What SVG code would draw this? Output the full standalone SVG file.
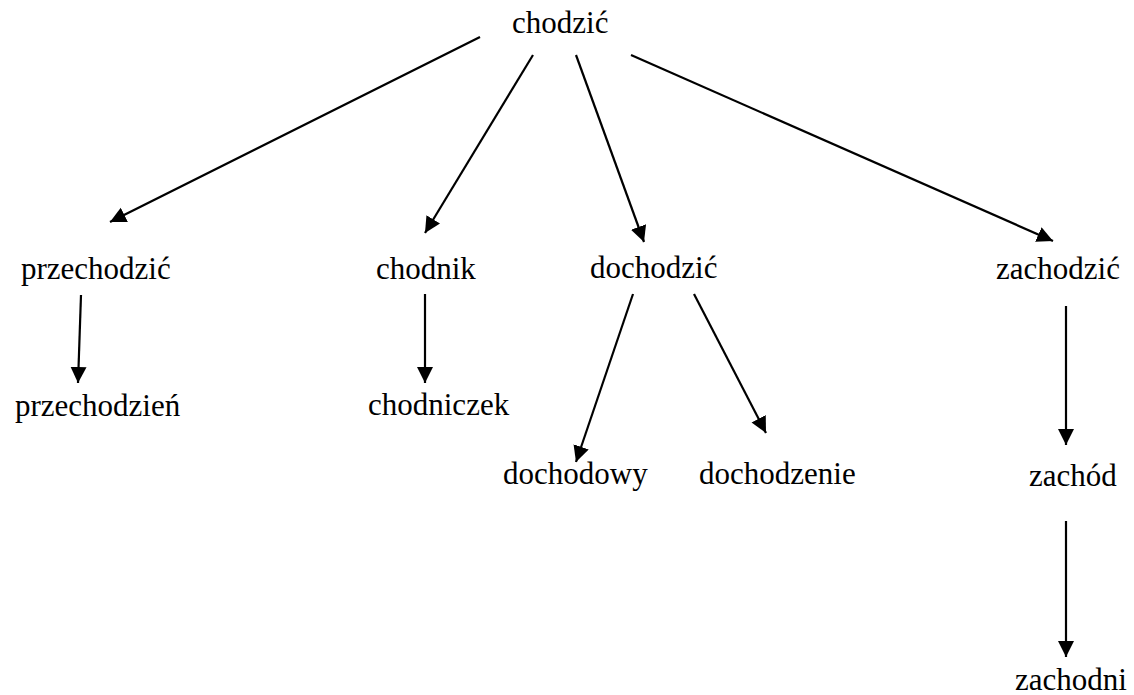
<svg xmlns="http://www.w3.org/2000/svg" width="1134" height="695" viewBox="0 0 1134 695">
<style>
.t{font-family:"Liberation Serif","Times New Roman",serif;font-size:31px;fill:#000}
.c line{stroke:#000;stroke-width:2.2;marker-end:url(#ah)}
</style>
<defs>
<marker id="ah" markerUnits="userSpaceOnUse" markerWidth="18" markerHeight="18" refX="16" refY="8" orient="auto">
<path d="M0,0 L16,8 L0,16 z" fill="#000"/>
</marker>
</defs>
<rect width="1134" height="695" fill="#fff"/>
<g id="connectors" class="c">
<line x1="480" y1="37" x2="110" y2="222"/>
<line x1="533" y1="55" x2="425" y2="233"/>
<line x1="576" y1="55" x2="644" y2="242"/>
<line x1="631" y1="55" x2="1053" y2="241"/>
<line x1="81" y1="295" x2="78" y2="383"/>
<line x1="425" y1="294" x2="425" y2="383"/>
<line x1="633" y1="294" x2="576" y2="462"/>
<line x1="694" y1="294" x2="766" y2="433"/>
<line x1="1066" y1="306" x2="1066" y2="445"/>
<line x1="1066" y1="521" x2="1066" y2="657"/>
</g>
<g id="n-chodzic"><text class="t" x="512" y="33">chodzić</text></g>
<g id="n-przechodzic"><text class="t" x="21" y="279">przechodzić</text></g>
<g id="n-przechodzien"><text class="t" x="15" y="416">przechodzień</text></g>
<g id="n-chodnik"><text class="t" x="376" y="279">chodnik</text></g>
<g id="n-chodniczek"><text class="t" x="368" y="415">chodniczek</text></g>
<g id="n-dochodzic"><text class="t" x="590" y="278">dochodzić</text></g>
<g id="n-dochodowy"><text class="t" x="503" y="484">dochodowy</text></g>
<g id="n-dochodzenie"><text class="t" x="699" y="484">dochodzenie</text></g>
<g id="n-zachodzic"><text class="t" x="996" y="279">zachodzić</text></g>
<g id="n-zachod"><text class="t" x="1029" y="486">zachód</text></g>
<g id="n-zachodni"><text class="t" x="1015" y="690">zachodni</text></g>
</svg>
